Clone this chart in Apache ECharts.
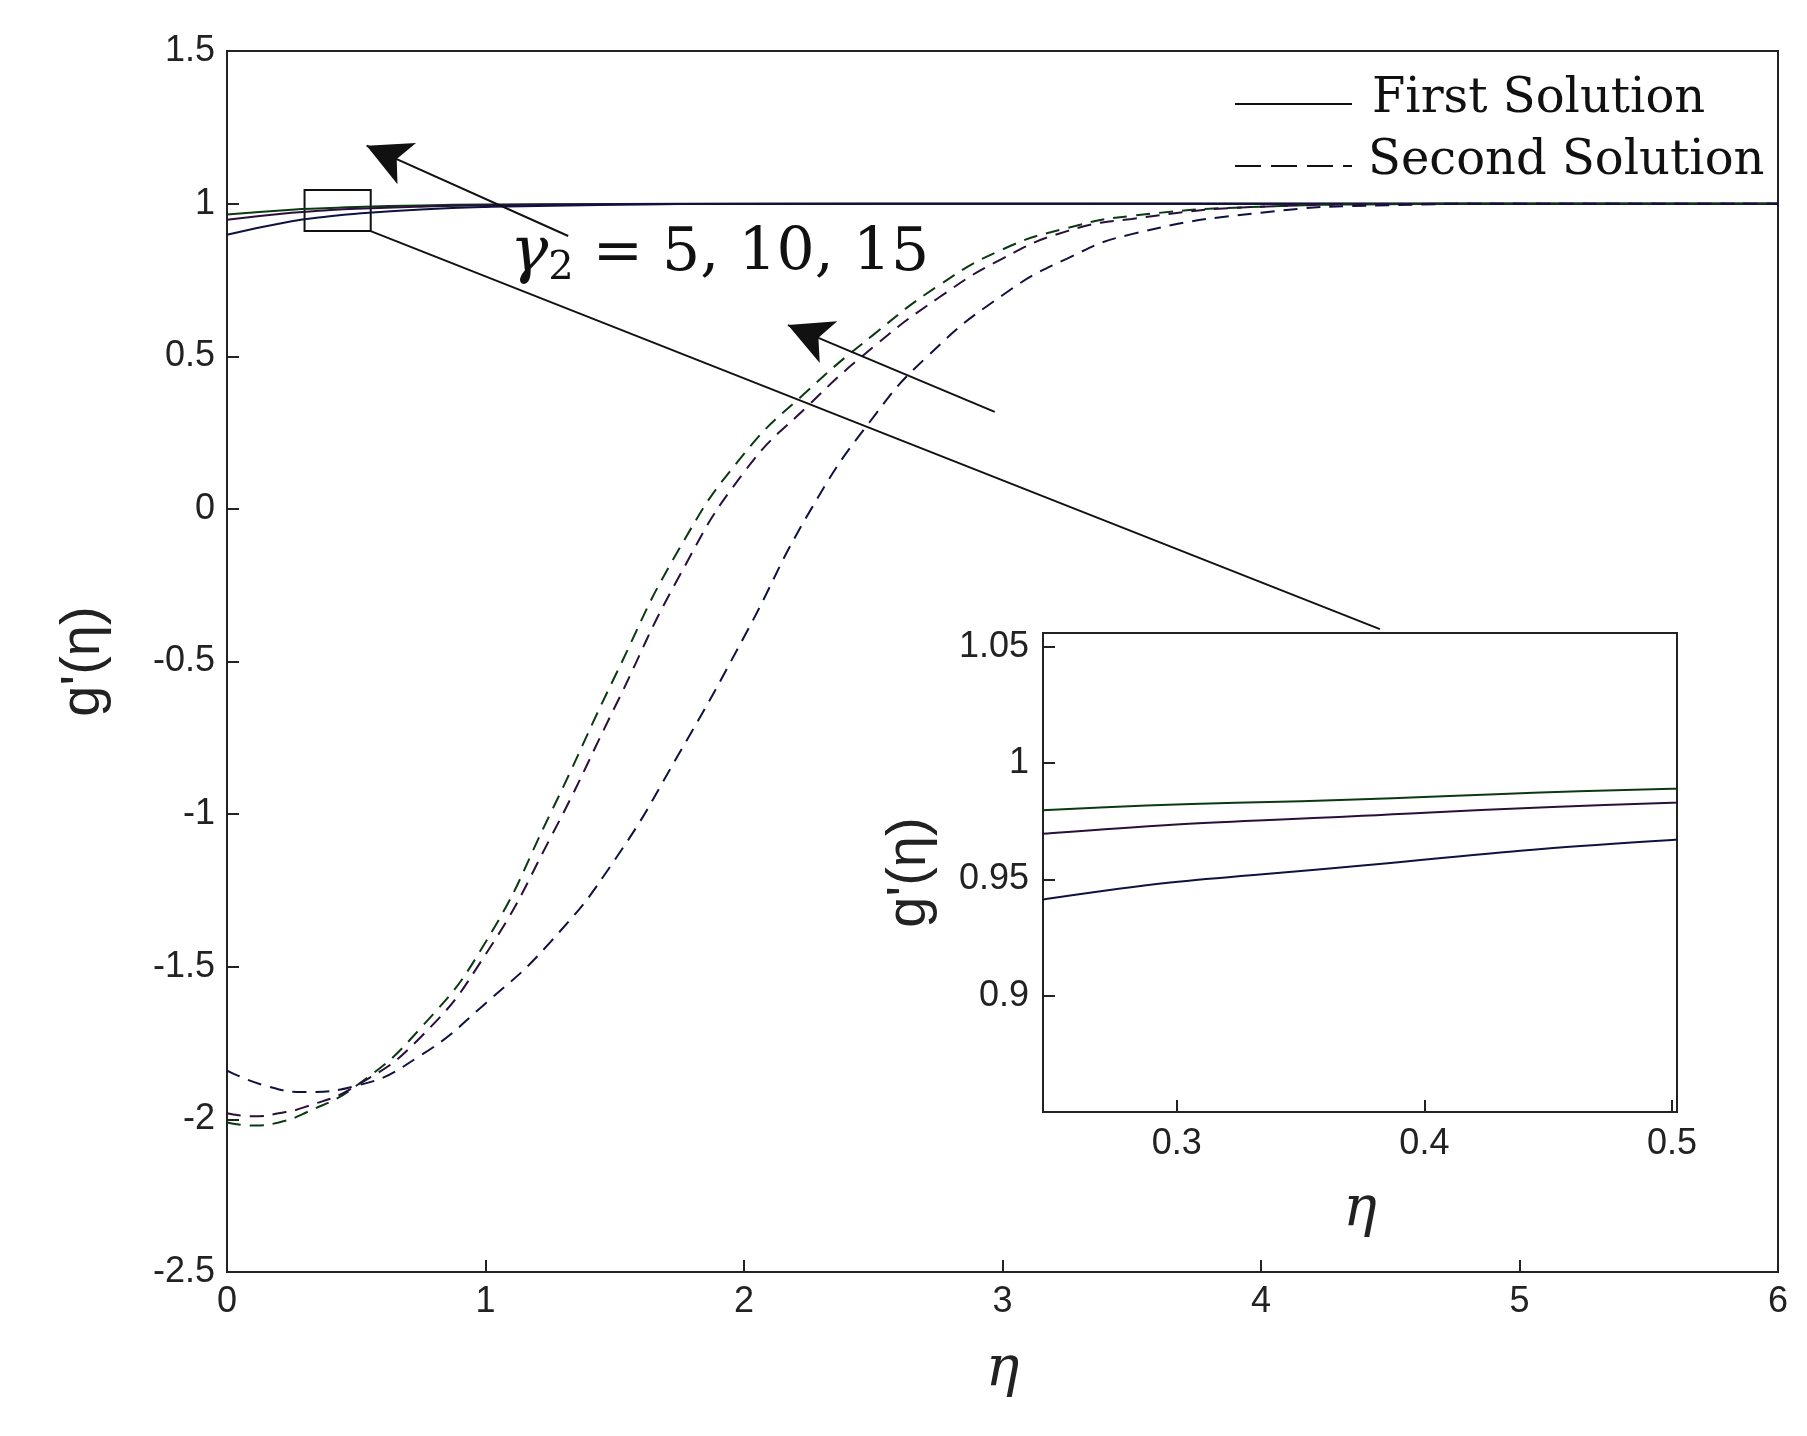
<!DOCTYPE html>
<html><head><meta charset="utf-8">
<script src="https://cdn.jsdelivr.net/npm/echarts@6/dist/echarts.min.js"></script>
<style>html,body{margin:0;background:#fff}#c{width:1807px;height:1436px}</style>
</head><body><div id="c"></div>
<script>
// first solutions (solid)
var etaF = [0, 0.25, 0.375, 0.5, 0.75, 1, 1.5, 2, 3, 6];
var first1 = [0.964, 0.980, 0.9845, 0.989, 0.994, 0.997, 0.999, 1.0, 1.0, 1.0];
var first2 = [0.947, 0.970, 0.9774, 0.983, 0.990, 0.9945, 0.998, 0.9994, 1.0, 1.0];
var first3 = [0.898, 0.942, 0.956, 0.967, 0.981, 0.989, 0.9966, 0.9989, 1.0, 1.0];
// second solutions (dashed)
var eta1 = [0, 0.1, 0.2, 0.3, 0.5, 0.75, 1, 1.25, 1.5, 1.75, 2, 2.25, 2.5, 2.75, 3, 3.25, 3.5, 4, 4.5, 5, 6];
var second1 = [-2.01, -2.02, -2.01, -1.98, -1.89, -1.70, -1.42, -1.0, -0.55, -0.13, 0.18, 0.39, 0.57, 0.73, 0.85, 0.92, 0.96, 0.99, 0.998, 1.0, 1.0];
var second2 = [-1.98, -1.99, -1.98, -1.96, -1.89, -1.73, -1.46, -1.08, -0.65, -0.22, 0.12, 0.34, 0.53, 0.69, 0.82, 0.91, 0.95, 0.99, 0.998, 1.0, 1.0];
var eta3 = [0, 0.15, 0.3, 0.5, 0.75, 1, 1.25, 1.5, 1.75, 2, 2.26, 2.5, 2.71, 3, 3.25, 3.5, 4, 4.5, 5, 6];
var second3 = [-1.84, -1.89, -1.91, -1.89, -1.79, -1.62, -1.42, -1.15, -0.80, -0.42, 0.0, 0.30, 0.50, 0.70, 0.82, 0.90, 0.97, 0.995, 1.0, 1.0];

var cols = ['#0b3a12', '#2a0f3a', '#0f1240'];
function pairs(x, y) { return x.map(function (v, i) { return [v, y[i]]; }); }

var ax = {
  axisLine: {onZero: false, lineStyle: {color: '#222', width: 2}},
  axisTick: {inside: true, length: 12, lineStyle: {color: '#222', width: 2}},
  splitLine: {show: false},
  axisLabel: {color: '#222', fontSize: 36, fontFamily: 'Liberation Sans', margin: 12}
};
function mk(o) { return Object.assign({}, JSON.parse(JSON.stringify(ax)), o); }

var series = [];
[first1, first2, first3].forEach(function (d, i) {
  series.push({type: 'line', xAxisIndex: 0, yAxisIndex: 0, showSymbol: false, symbol: 'none', smooth: true,
    data: pairs(etaF, d), lineStyle: {color: cols[i], width: 2}});
  series.push({type: 'line', xAxisIndex: 1, yAxisIndex: 1, showSymbol: false, symbol: 'none', smooth: true, z: 20,
    data: pairs(etaF, d), lineStyle: {color: cols[i], width: 2}});
});
[[eta1, second1], [eta1, second2], [eta3, second3]].forEach(function (p, i) {
  series.push({type: 'line', xAxisIndex: 0, yAxisIndex: 0, showSymbol: false, symbol: 'none', smooth: true,
    data: pairs(p[0], p[1]), lineStyle: {color: cols[i], width: 2, type: [14, 9]}});
});
// annotations
series.push({type: 'line', xAxisIndex: 0, yAxisIndex: 0, data: [], silent: true,
  markArea: {silent: true, itemStyle: {color: 'rgba(0,0,0,0)', borderColor: '#111', borderWidth: 2},
    data: [[{coord: [0.3, 1.045]}, {coord: [0.556, 0.91]}]]},
  markLine: {silent: true, symbol: ['none', 'none'], label: {show: false},
    lineStyle: {color: '#111', width: 2, type: 'solid'},
    data: [
      [{coord: [0.556, 0.91]}, {coord: [4.46, -0.394]}],
      [{coord: [1.32, 0.894], symbol: 'none'}, {coord: [0.54, 1.19], symbol: 'arrow', symbolSize: [34, 44]}],
      [{coord: [2.97, 0.318], symbol: 'none'}, {coord: [2.17, 0.602], symbol: 'arrow', symbolSize: [34, 44]}]
    ]}
});

var option = {
  animation: false,
  grid: [
    {left: 227, right: 29, top: 51, bottom: 164, show: true, borderColor: '#222', borderWidth: 2, backgroundColor: '#fff'},
    {left: 1043, top: 633, width: 634, height: 479, show: true, borderColor: '#222', borderWidth: 2, backgroundColor: '#fff', z: 5}
  ],
  xAxis: [
    mk({type: 'value', gridIndex: 0, min: 0, max: 6, interval: 1, name: 'η', nameLocation: 'middle', nameGap: 70,
      nameTextStyle: {fontSize: 56, fontStyle: 'italic', fontFamily: 'DejaVu Serif', color: '#222'}}),
    mk({type: 'value', gridIndex: 1, min: 0.246, max: 0.502, name: 'η', nameLocation: 'middle', nameGap: 70, z: 20,
      nameTextStyle: {fontSize: 56, fontStyle: 'italic', fontFamily: 'DejaVu Serif', color: '#222'},
      axisLabel: {color: '#222', fontSize: 36, fontFamily: 'Liberation Sans', margin: 14, customValues: [0.3, 0.4, 0.5]},
      axisTick: {inside: true, length: 12, lineStyle: {color: '#222', width: 2}, customValues: [0.3, 0.4, 0.5]}})
  ],
  yAxis: [
    mk({type: 'value', gridIndex: 0, min: -2.5, max: 1.5, interval: 0.5, name: "g'(η)", nameLocation: 'middle', nameGap: 115,
      nameTextStyle: {fontSize: 56, fontFamily: 'Liberation Sans', color: '#222'}}),
    mk({type: 'value', gridIndex: 1, min: 0.85, max: 1.056, name: "g'(η)", nameLocation: 'middle', nameGap: 105, z: 20,
      nameTextStyle: {fontSize: 56, fontFamily: 'Liberation Sans', color: '#222'},
      axisLabel: {color: '#222', fontSize: 36, fontFamily: 'Liberation Sans', margin: 14, customValues: [0.9, 0.95, 1, 1.05]},
      axisTick: {inside: true, length: 12, lineStyle: {color: '#222', width: 2}, customValues: [0.9, 0.95, 1, 1.05]}})
  ],
  series: series,
  graphic: [
    {type: 'line', shape: {x1: 1235, y1: 104, x2: 1352, y2: 104}, style: {stroke: '#111', lineWidth: 2}},
    {type: 'text', left: 1372, top: 76, style: {text: 'First Solution', fontSize: 48, fontFamily: 'DejaVu Serif', fill: '#111'}},
    {type: 'line', shape: {x1: 1235, y1: 166, x2: 1352, y2: 166}, style: {stroke: '#111', lineWidth: 2, lineDash: [26, 10]}},
    {type: 'text', left: 1368, top: 138, style: {text: 'Second Solution', fontSize: 48, fontFamily: 'DejaVu Serif', fill: '#111'}},
    {type: 'text', left: 510, top: 222, style: {
      text: '{g|γ}{s|2}{t| = 5, 10, 15}',
      rich: {
        g: {fontSize: 64, fontStyle: 'italic', fontFamily: 'DejaVu Serif', fill: '#111'},
        s: {fontSize: 40, fontFamily: 'DejaVu Serif', fill: '#111', padding: [30, 0, 0, 0]},
        t: {fontSize: 60, fontFamily: 'DejaVu Serif', fill: '#111'}
      }}}
  ]
};
echarts.init(document.getElementById('c')).setOption(option);
</script>
</body></html>
